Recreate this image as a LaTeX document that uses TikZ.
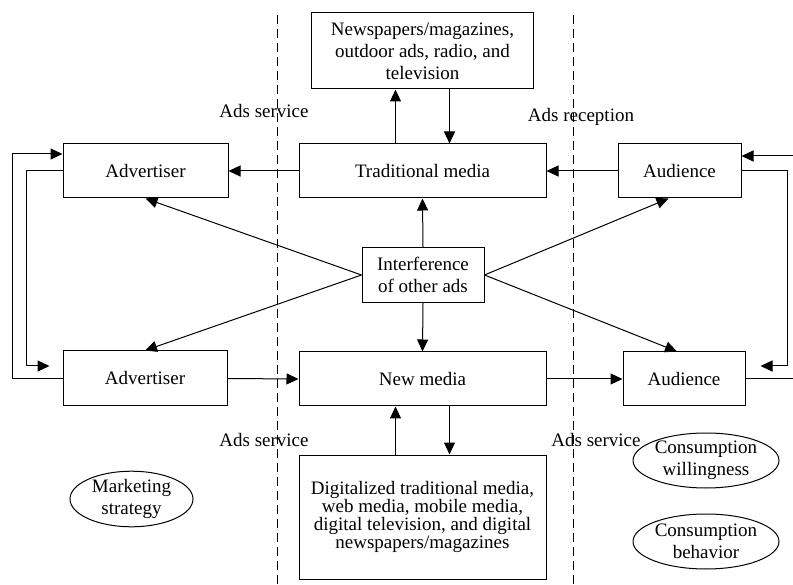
\documentclass[tikz,border=0pt]{standalone}
\usepackage{fontspec}
\setmainfont{Liberation Serif}
\usetikzlibrary{arrows.meta,shapes.geometric}
\begin{document}
\begin{tikzpicture}[x=1pt,y=-1pt, font=\fontsize{19}{22}\selectfont,
 box/.style={draw, line width=1pt, inner sep=0pt, align=center},
 oval/.style={draw, ellipse, line width=1pt, inner sep=0pt, align=center},
 arr/.style={-{Triangle[length=12pt,width=11pt]}, line width=1pt},
 ln/.style={line width=1pt},
 sep/.style={dash pattern=on 9pt off 5pt, line width=1pt}]
\useasboundingbox (0,0) rectangle (793,585);
% boxes
\node[box, minimum width=165, minimum height=54] (adv1) at (145.5,171) {Advertiser};
\node[box, minimum width=164, minimum height=55] (adv2) at (145,378.5) {Advertiser};
\node[box, minimum width=247, minimum height=54] (tm) at (422.5,171) {Traditional media};
\node[box, minimum width=222, minimum height=76] (news) at (422.5,51) {Newspapers/magazines,\\outdoor ads, radio, and\\television};
\node[box, minimum width=247, minimum height=54] (nm) at (422.5,379) {New media};
\node[box, minimum width=247, minimum height=124, font=\fontsize{19}{18.2}\selectfont] (dig) at (422.5,517) {Digitalized traditional media,\\web media, mobile media,\\digital television, and digital\\newspapers/magazines};
\node[box, minimum width=123, minimum height=54] (aud1) at (679.5,171) {Audience};
\node[box, minimum width=122, minimum height=54] (aud2) at (684,379) {Audience};
\node[box, minimum width=122, minimum height=55] (intf) at (423,275) {Interference\\of other ads};
% ellipses
\node[oval, minimum width=123, minimum height=54] (ms) at (131.5,499) {Marketing\\strategy};
\node[oval, minimum width=146, minimum height=55] (cw) at (706,460.5) {Consumption\\willingness};
\node[oval, minimum width=146, minimum height=55] (cb) at (706,541.5) {Consumption\\behavior};
% labels
\node (l1) at (264,111) {Ads service};
\node (l2) at (581,117) {Ads reception};
\node (l3) at (264,440) {Ads service};
\node (l4) at (596,440) {Ads service};
% dashed separators
\draw[sep] (277,15) -- (277,585);
\draw[sep] (573,15) -- (573,585);
% connectors
\draw[arr] (tm.west) -- (adv1.east);
\draw[arr] (aud1.west) -- (tm.east);
\draw[arr] (adv2.east) -- (nm.west);
\draw[arr] (nm.east) -- (aud2.west);
\draw[arr] (intf.north) -- (tm.south);
\draw[arr] (intf.south) -- (nm.north);
\draw[arr] (intf.west) -- (adv1.south);
\draw[arr] (intf.west) -- (adv2.north);
\draw[arr] (intf.east) -- ([xshift=-11]aud1.south);
\draw[arr] (intf.east) -- ([xshift=-7]aud2.north);
\draw[arr] ([xshift=-27]tm.north) -- ([xshift=-27]news.south);
\draw[arr] ([xshift=27]news.south) -- ([xshift=27]tm.north);
\draw[arr] ([xshift=-27]dig.north) -- ([xshift=-27]nm.south);
\draw[arr] ([xshift=27]nm.south) -- ([xshift=27]dig.north);
% left loops
\draw[arr] (adv2.west) -- ++(-50,0) |- ([yshift=17]adv1.west);
\draw[arr] (adv1.west) -- ++(-36,0) |- ([xshift=-13,yshift=12.5]adv2.west);
% right loops
\coordinate (rin) at (793,156);
\coordinate (rout) at (793,379);
\draw[arr] (rin) -- (rin -| aud1.east);
\draw[arr] (aud1.east) -- ++(46,0) |- ([xshift=15,yshift=13]aud2.east);
\draw[ln] (aud2.east) -- (rout);
\end{tikzpicture}
\end{document}
